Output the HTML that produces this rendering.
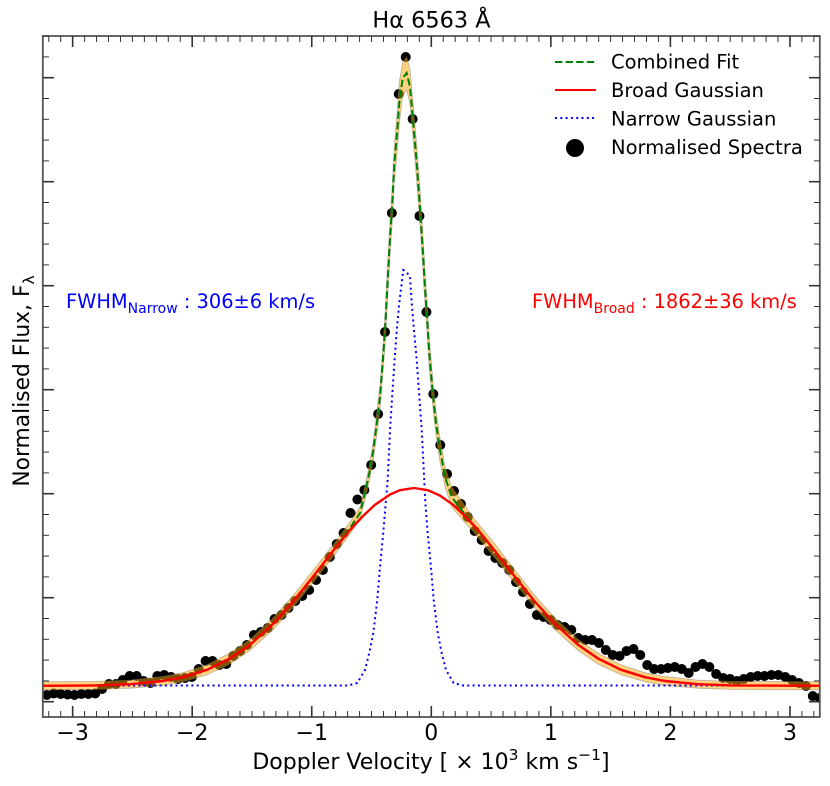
<!DOCTYPE html>
<html>
<head>
<meta charset="utf-8">
<title>H-alpha line profile</title>
<style>
html,body{margin:0;padding:0;background:#fff;}
svg{display:block;}
text{font-family:"DejaVu Sans","Liberation Sans",sans-serif;fill:#000;}
</style>
</head>
<body>
<svg id="chart" xmlns="http://www.w3.org/2000/svg" width="830" height="786" viewBox="0 0 830 786">
<defs><clipPath id="plot-clip"><rect x="42.8" y="36" width="777" height="681"/></clipPath></defs>
<g id="marks" clip-path="url(#plot-clip)"></g>
<rect x="42.8" y="36" width="777" height="681" fill="none" stroke="#555" stroke-width="1.8"/>
<g id="ticks"></g>
<text x="431.5" y="27.3" font-size="22.4" text-anchor="middle">Hα 6563 Å</text>
<text x="431" y="769" font-size="22" text-anchor="middle">Doppler Velocity [ × 10<tspan dy="-9" font-size="15.5">3</tspan><tspan dy="9"> km s</tspan><tspan dy="-9" font-size="15.5">−1</tspan><tspan dy="9">]</tspan></text>
<text transform="translate(29,381) rotate(-90)" font-size="21.8" text-anchor="middle">Normalised Flux, F<tspan dy="5" font-size="15.5">λ</tspan></text>
<text x="66" y="308" font-size="19.4" style="fill:#0000ff">FWHM<tspan dy="5" font-size="14">Narrow</tspan><tspan dy="-5"> : 306±6 km/s</tspan></text>
<text x="532" y="308" font-size="19.4" style="fill:#ff0000">FWHM<tspan dy="5" font-size="14">Broad</tspan><tspan dy="-5"> : 1862±36 km/s</tspan></text>
<g>
<line x1="555" x2="596" y1="62" y2="62" stroke="#008000" stroke-width="2" stroke-dasharray="7.4 3.2"/>
<text x="611" y="68.5" font-size="19.5">Combined Fit</text>
<line x1="555" x2="596" y1="90" y2="90" stroke="#ff0000" stroke-width="2"/>
<text x="611" y="97" font-size="19.5">Broad Gaussian</text>
<line x1="555" x2="596" y1="118" y2="118" stroke="#0000ff" stroke-width="2" stroke-dasharray="2 3.3"/>
<text x="611" y="125.5" font-size="19.5">Narrow Gaussian</text>
<circle cx="575" cy="148" r="9" fill="#000"/>
<text x="611" y="154" font-size="19.5">Normalised Spectra</text>
</g>
</svg>
<script>
const xTickLabels = [-3, -2, -1, 0, 1, 2, 3];
const yMajorTicks = [0, 0.104, 0.208, 0.312, 0.416, 0.52, 0.624];

const spectraVelocity = [-3.273,-3.216,-3.158,-3.100,-3.042,-2.985,-2.927,-2.869,-2.811,-2.754,-2.696,-2.638,-2.581,-2.523,-2.465,-2.407,-2.350,-2.292,-2.234,-2.177,-2.119,-2.061,-2.003,-1.946,-1.888,-1.830,-1.773,-1.715,-1.657,-1.599,-1.542,-1.484,-1.426,-1.368,-1.311,-1.253,-1.195,-1.138,-1.080,-1.022,-0.964,-0.907,-0.849,-0.791,-0.734,-0.676,-0.618,-0.560,-0.503,-0.445,-0.387,-0.330,-0.272,-0.214,-0.156,-0.099,-0.041,0.017,0.075,0.132,0.190,0.248,0.305,0.363,0.421,0.479,0.536,0.594,0.652,0.709,0.767,0.825,0.883,0.940,0.998,1.056,1.114,1.171,1.229,1.287,1.344,1.402,1.460,1.518,1.575,1.633,1.691,1.748,1.806,1.864,1.922,1.979,2.037,2.095,2.153,2.210,2.268,2.326,2.383,2.441,2.499,2.557,2.614,2.672,2.730,2.787,2.845,2.903,2.961,3.018,3.076,3.134,3.191,3.249];
const spectraFlux = [.0067,.0067,.0082,.0077,.0072,.0067,.0077,.0077,.0082,.0127,.0177,.0177,.0217,.0257,.0257,.0207,.0187,.0257,.0267,.0247,.0227,.0237,.0247,.0327,.0407,.0407,.0367,.0377,.0457,.0507,.0567,.0667,.0697,.0737,.0827,.0867,.0937,.1007,.1057,.1117,.1217,.1317,.1447,.1577,.1687,.1887,.2022,.2117,.2367,.2877,.3697,.4887,.6077,.6447,.5827,.4857,.3897,.3077,.2567,.2277,.2107,.1977,.1847,.1707,.1617,.1507,.1437,.1387,.1317,.1197,.1097,.0977,.0867,.0847,.0817,.0767,.0747,.0717,.0637,.0617,.0617,.0587,.0517,.0467,.0457,.0507,.0527,.0467,.0367,.0327,.0327,.0337,.0347,.0327,.0287,.0347,.0377,.0347,.0277,.0237,.0227,.0207,.0227,.0247,.0257,.0257,.0267,.0267,.0247,.0217,.0187,.0157,.0057,.0037];

const broadVelocity = [-3.248,-2.796,-2.520,-2.244,-2.077,-1.876,-1.685,-1.516,-1.324,-1.157,-0.990,-0.822,-0.680,-0.571,-0.471,-0.345,-0.262,-0.145,-0.028,0.073,0.182,0.282,0.391,0.533,0.700,0.867,1.035,1.227,1.394,1.587,1.787,1.955,2.231,2.507,3.249];
const broadFlux = [.0159,.0163,.0175,.0207,.0245,.0319,.0432,.0569,.0778,.1000,.1249,.1507,.1717,.1857,.1969,.2072,.2115,.2137,.2115,.2061,.1969,.1857,.1717,.1507,.1249,.1000,.0778,.0569,.0432,.0319,.0245,.0207,.0175,.0163,.0159];

const narrowVelocity = [-3.248,-0.697,-0.619,-0.555,-0.519,-0.485,-0.452,-0.429,-0.402,-0.381,-0.365,-0.345,-0.331,-0.309,-0.289,-0.268,-0.234,-0.207,-0.178,-0.164,-0.145,-0.122,-0.100,-0.080,-0.059,-0.050,-0.030,-0.003,0.020,0.054,0.087,0.123,0.187,0.265,3.249];
const narrowFlux = [.0162,.0162,.0187,.0317,.0487,.0687,.1017,.1347,.1687,.1987,.2217,.2717,.2987,.3387,.3717,.3987,.4317,.4297,.4247,.3987,.3717,.3417,.3047,.2717,.2217,.1987,.1687,.1347,.1017,.0687,.0487,.0317,.0187,.0162,.0162];

const combinedVelocity = [-3.248,-2.796,-2.520,-2.244,-2.077,-1.876,-1.685,-1.516,-1.324,-1.157,-0.990,-0.822,-0.680,-0.596,-0.555,-0.513,-0.485,-0.452,-0.429,-0.407,-0.387,-0.368,-0.345,-0.326,-0.309,-0.284,-0.268,-0.239,-0.206,-0.178,-0.151,-0.122,-0.095,-0.075,-0.053,-0.038,-0.017,0.012,0.039,0.073,0.115,0.171,0.254,0.349,0.533,0.700,0.867,1.035,1.227,1.394,1.587,1.787,1.955,2.231,2.507,3.249];
const combinedFlux = [.0159,.0163,.0175,.0207,.0245,.0319,.0432,.0569,.0778,.1000,.1249,.1507,.1737,.1887,.2087,.2317,.2517,.2817,.3047,.3387,.3717,.4147,.4647,.4987,.5387,.5717,.5987,.6237,.6287,.6147,.5787,.5387,.4947,.4587,.4147,.3887,.3487,.3087,.2787,.2517,.2247,.2047,.1917,.1773,.1507,.1249,.1000,.0778,.0569,.0432,.0319,.0245,.0207,.0175,.0163,.0159];
const bandUpperFlux = [.0199,.0203,.0215,.0252,.0290,.0369,.0487,.0624,.0838,.1060,.1309,.1567,.1797,.1947,.2157,.2397,.2607,.2937,.3167,.3517,.3877,.4317,.4817,.5167,.5567,.5917,.6197,.6397,.6447,.6317,.5967,.5567,.5127,.4767,.4317,.4047,.3647,.3217,.2907,.2637,.2347,.2147,.2007,.1843,.1577,.1314,.1060,.0838,.0624,.0487,.0369,.0290,.0252,.0215,.0203,.0199];
const bandLowerFlux = [.0119,.0123,.0135,.0162,.0200,.0269,.0377,.0514,.0718,.0940,.1189,.1447,.1677,.1827,.2017,.2237,.2427,.2697,.2927,.3257,.3557,.3977,.4477,.4807,.5207,.5517,.5777,.6057,.6117,.5977,.5607,.5207,.4767,.4407,.3977,.3727,.3327,.2957,.2667,.2397,.2147,.1947,.1827,.1703,.1437,.1184,.0940,.0718,.0514,.0377,.0269,.0200,.0162,.0135,.0123,.0119];

const SVGNS = 'http://www.w3.org/2000/svg';
const xScale = function (v) { return 431.3 + v * 119.55; };
const yScale = function (f) { return 701.7 - f * 1000; };
const marks = document.getElementById('marks');
const ticks = document.getElementById('ticks');
const chart = document.getElementById('chart');

function make(tag, parent, attrs) {
  const el = document.createElementNS(SVGNS, tag);
  for (const k in attrs) el.setAttribute(k, attrs[k]);
  parent.appendChild(el);
  return el;
}
function pathFrom(xs, ys) {
  return xs.map(function (v, i) {
    return (i ? 'L' : 'M') + xScale(v).toFixed(2) + ' ' + yScale(ys[i]).toFixed(2);
  }).join(' ');
}

/* spectra points */
spectraVelocity.forEach(function (v, i) {
  const dot = make('circle', marks, { cx: xScale(v).toFixed(2), cy: yScale(spectraFlux[i]).toFixed(2), r: 5, fill: '#000' });
  
  
});

/* confidence band */
const bandD = pathFrom(combinedVelocity, bandUpperFlux) + ' ' +
  pathFrom(combinedVelocity.slice().reverse(), bandLowerFlux.slice().reverse()).replace('M', 'L') + ' Z';
const band = make('path', marks, { d: bandD, fill: '#ffa500', 'fill-opacity': 0.5, stroke: '#777', 'stroke-opacity': 0.5, 'stroke-width': 0.8 });



/* narrow gaussian */
const narrowLine = make('path', marks, { d: pathFrom(narrowVelocity, narrowFlux), fill: 'none', stroke: '#0000ff', 'stroke-width': 2, 'stroke-dasharray': '2 3.3' });



/* combined fit */
const combinedLine = make('path', marks, { d: pathFrom(combinedVelocity, combinedFlux), fill: 'none', stroke: '#008000', 'stroke-width': 2, 'stroke-dasharray': '7.4 3.2' });



/* broad gaussian */
const broadLine = make('path', marks, { d: pathFrom(broadVelocity, broadFlux), fill: 'none', stroke: '#ff0000', 'stroke-width': 2.4, 'stroke-linejoin': 'round' });



/* x ticks */
function tickLine(x1, y1, x2, y2, w) {
  return make('line', ticks, { x1: x1, y1: y1, x2: x2, y2: y2, stroke: '#333', 'stroke-width': w });
}
for (let i = -32; i <= 32; i++) {
  if (i % 10 === 0) continue;
  const x = xScale(i / 10);
  const a = tickLine(x, 717, x, 711, 1);
  
  
  const b = tickLine(x, 36, x, 42, 1);
  
  
}
xTickLabels.forEach(function (v) {
  const x = xScale(v);
  const a = tickLine(x, 717, x, 706, 1.6);
  
  
  const b = tickLine(x, 36, x, 47, 1.6);
  
  
  const t = make('text', chart, { x: x, y: 740, 'font-size': 22, 'text-anchor': 'middle' });
  
  
  t.textContent = (v < 0 ? '\u2212' + (-v) : String(v));
});

/* y ticks */
for (let i = 0; i <= 32; i++) {
  if (i % 5 === 0) continue;
  const y = yScale(i * 0.0208);
  const a = tickLine(43, y, 49, y, 1);
  
  
  const b = tickLine(820, y, 814, y, 1);
  
  
}
yMajorTicks.forEach(function (f) {
  const y = yScale(f);
  const a = tickLine(43, y, 54, y, 1.6);
  
  
  const b = tickLine(820, y, 809, y, 1.6);
  
  
});
</script>
</body>
</html>
